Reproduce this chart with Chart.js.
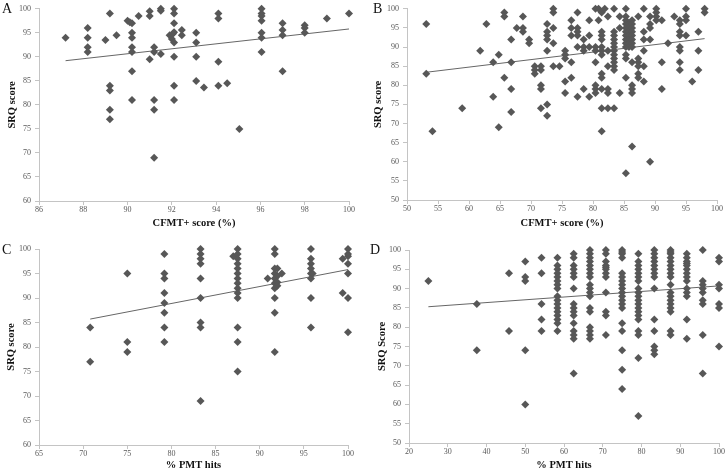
<!DOCTYPE html>
<html lang="en">
<head>
  <meta charset="UTF-8" />
  <title>SRQ vs CFMT+ / PMT</title>
  <script src="https://cdn.jsdelivr.net/npm/chart.js"></script>
  <style>
    body { margin: 0; background: #fff; }
    #wrap { position: relative; width: 726px; height: 472px; }
    canvas { position: absolute; }
    .letter {
      position: absolute;
      font-family: 'Liberation Serif', serif;
      font-size: 14px;
      line-height: 14px;
      color: #111;
    }
  </style>
</head>
<body>
<div id="wrap">
  <canvas id="chartA" width="363" height="236" style="left:0;top:0"></canvas>
  <canvas id="chartB" width="363" height="236" style="left:363px;top:0"></canvas>
  <canvas id="chartC" width="363" height="236" style="left:0;top:236px"></canvas>
  <canvas id="chartD" width="363" height="236" style="left:363px;top:236px"></canvas>
  <div class="letter" style="left:2px;top:2px">A</div>
  <div class="letter" style="left:373px;top:2px">B</div>
  <div class="letter" style="left:2px;top:243px">C</div>
  <div class="letter" style="left:370px;top:243px">D</div>
</div>

<script>
  // ---- data (x column -> SRQ scores) ----
  const colsA = [87.2, 88.2, 89, 89.2, 89.5, 90, 90.1, 90.2, 90.5, 91, 91.2, 91.5, 91.9, 92, 92.05, 92.1, 92.45, 93.1, 93.45, 94.1, 94.5, 95.05, 96.05, 97, 98, 99, 100];
  const scoresA = [
    [94], [96, 94, 92, 91], [93.5], [99, 84, 83, 79, 77], [94.5], [97.5], [97.2],
    [97, 95, 94, 92, 91, 87, 81], [98.5], [99.5, 98.5, 89.5], [92, 91, 81, 79, 69],
    [100, 99.6, 90.6], [94.5], [93.7], [94.8], [100, 99, 97, 95.1, 93, 90, 84, 81],
    [95.6, 94.5], [95, 93, 90, 85], [83.6], [99, 98, 89, 84], [84.5], [75],
    [100, 99, 98.5, 97.5, 95, 94, 91], [97, 95.6, 94.5, 87], [96.6, 96, 95], [98], [99]
  ];
  const trendA = [[87.2, 89.2], [100, 95.8]];

  const colsB = [53.1, 54.1, 58.9, 61.8, 62.8, 63.9, 64.8, 65.7, 66.8, 67.7, 68.7, 69.7, 70.6, 71.6, 72.6, 73.6, 74.6, 75.5, 76.5, 77.5, 78.5, 79.4, 80.4, 80.9, 81.4, 81.9, 82.4, 83.4, 84.3, 85.3, 85.8, 86.3, 87.3, 88.2, 89.2, 90.2, 91.1, 92.1, 93.1, 94, 95, 96, 97, 98];
  const scoresB = [
    [96, 83], [68], [74], [89], [96], [86, 77], [88, 69], [99, 98, 82], [92, 86, 79, 73],
    [95], [98, 95, 94], [92, 91], [85, 84, 83], [85, 84, 80, 79, 74],
    [96, 94, 93, 92, 89, 75, 72], [100, 99, 95, 91, 85], [85], [89, 88, 87, 81, 78],
    [97, 95, 93, 86, 82], [99, 95, 94, 93, 90, 77], [92, 90, 89, 79], [97, 93, 90, 77],
    [100, 90, 89, 86, 80, 79, 78], [100, 97], [99, 94, 93, 92, 90, 89, 88, 83, 82, 79, 74, 68],
    [100], [98, 89, 85, 79, 78, 74], [100, 94, 93, 92, 91, 90, 89, 88, 87, 86, 85, 84, 74],
    [98, 95, 78], [100, 98, 97, 96, 95, 94, 93, 92, 91, 90, 88, 87, 82, 57],
    [96, 95, 94, 93, 92, 91, 90], [97, 96, 95, 94, 93, 92, 91, 90, 86, 80, 79, 78, 64],
    [98, 87, 86, 85, 83, 82], [100, 94, 92, 89, 85, 81], [98, 96, 95, 92, 60],
    [100, 99, 98, 97], [97, 86, 79], [91], [98], [97, 96, 94, 93, 90, 89, 86, 84],
    [100, 98, 97, 93], [81], [94, 89, 84], [100, 99]
  ];
  const trendB = [[53.1, 83.4], [98, 92.2]];

  const colsC = [70.8, 75, 79.2, 83.3, 87, 87.5, 90.9, 91.7, 92, 92.5, 95.8, 96, 99.4, 100];
  const scoresC = [
    [84, 77], [95, 81, 79], [99, 95, 94, 91, 89, 87, 84, 81], [100, 99, 98, 97, 94, 90, 85, 84, 69],
    [98.5], [100, 99, 98, 97, 96, 95, 94, 93, 92, 91, 90, 84, 81, 75], [94],
    [100, 99, 96, 95, 94, 93, 92, 90, 87, 79], [96, 94.5, 93.2, 92.5], [95],
    [100, 98, 97, 96, 95, 94, 90, 84], [95], [98, 91], [100, 99, 98.5, 97, 95, 90, 83]
  ];
  const trendC = [[70.8, 85.7], [100, 95.8]];

  const colsD = [25, 37.5, 45.8, 50, 54.2, 58.3, 62.5, 66.7, 70.8, 75, 79.2, 83.3, 87.5, 91.7, 95.8, 100];
  const scoresD = [
    [92], [86, 74], [94, 79], [97, 93, 92, 74, 60], [98, 94, 86, 82, 79],
    [98, 96, 95, 94, 93, 92, 91, 90, 88, 87, 86, 85, 84, 83, 82, 81, 79],
    [99, 98, 96, 95, 94, 93, 90, 86, 85, 84, 83, 81, 79, 78, 77, 68],
    [100, 99, 98, 97, 96, 95, 94, 93, 91, 90, 89, 88, 85, 84, 80, 79, 78, 77],
    [100, 99, 97, 96, 95.5, 95, 94, 93, 89, 84, 83, 78],
    [100, 99.5, 99, 98, 94, 93, 92, 91, 90, 89, 88, 87, 86, 85, 81, 79, 74, 69, 64],
    [99, 97, 96, 95, 94, 93, 92, 90, 89, 88, 87, 86, 85, 84, 83, 82, 79, 78, 72, 57],
    [100, 99, 98, 97, 96, 95, 94, 93, 90, 82, 79, 75, 74, 73],
    [100, 99.5, 99, 98, 97, 96, 95, 94, 93, 91, 89, 88, 87, 86, 85, 84, 79, 78],
    [99, 98, 97, 96.5, 96, 95, 94, 93, 92, 90, 89, 88, 82, 77],
    [100, 92, 91, 90, 89, 87, 86, 78, 68],
    [98, 97, 91, 90, 86, 85, 75]
  ];
  const trendD = [[25, 85.3], [100, 90.7]];

  // ---- drawing ----
  const MARK = '#575757';
  const AXIS = '#c4c4c4';
  const TICK_FONT = { family: "'Liberation Serif', serif", size: 8 };
  const TITLE_FONT = { family: "'Liberation Serif', serif", size: 10.5, weight: 'bold' };

  function toPoints(cols, scores) {
    const pts = [];
    cols.forEach((x, i) => scores[i].forEach(y => pts.push({ x, y })));
    return pts;
  }

  function makePanel(id, cols, scores, trend, xs, ys, xTitle, yTitle, area) {
    const W = 363, H = 236;
    new Chart(document.getElementById(id), {
      type: 'scatter',
      data: {
        datasets: [
          {
            data: toPoints(cols, scores),
            pointStyle: 'rectRot',
            pointRadius: 4,
            backgroundColor: MARK,
            borderColor: MARK,
            borderWidth: 0,
            clip: false
          },
          {
            type: 'line',
            data: trend.map(([x, y]) => ({ x, y })),
            borderColor: '#666',
            borderWidth: 1,
            pointRadius: 0,
            fill: false
          }
        ]
      },
      options: {
        responsive: false,
        animation: false,
        devicePixelRatio: 1,
        layout: { padding: { top: area.top, right: W - area.right, left: 0, bottom: 0 } },
        plugins: { legend: { display: false }, tooltip: { enabled: false } },
        scales: {
          x: {
            type: 'linear', min: xs[0], max: xs[1],
            afterFit: s => { s.height = H - area.bottom; },
            ticks: { stepSize: xs[2], font: TICK_FONT, color: '#595959', padding: 0, maxRotation: 0 },
            grid: { drawOnChartArea: false, tickLength: 4, color: AXIS },
            border: { color: AXIS },
            title: { display: true, text: xTitle, font: TITLE_FONT, color: '#111', padding: { top: 0, bottom: area.xt } }
          },
          y: {
            type: 'linear', min: ys[0], max: ys[1],
            afterFit: s => { s.width = area.left; },
            ticks: { stepSize: ys[2], font: TICK_FONT, color: '#595959', padding: 4 },
            grid: { drawOnChartArea: false, tickLength: 4, color: AXIS },
            border: { color: AXIS },
            title: { display: true, text: yTitle, font: TITLE_FONT, color: '#111', padding: { top: area.yt, bottom: 0 } }
          }
        }
      }
    });
  }

  makePanel('chartA', colsA, scoresA, trendA, [86, 100, 2], [60, 100, 5],
    'CFMT+ score (%)', 'SRQ score', { left: 39, right: 349, top: 5, bottom: 201, xt: 6.7, yt: 5.7 });
  makePanel('chartB', colsB, scoresB, trendB, [50, 100, 5], [50, 100, 5],
    'CFMT+ score (%)', 'SRQ score', { left: 44, right: 354, top: 5, bottom: 200, xt: 6.7, yt: 8.7 });
  makePanel('chartC', colsC, scoresC, trendC, [65, 100, 5], [60, 100, 5],
    '% PMT hits', 'SRQ score', { left: 39, right: 348, top: 13, bottom: 209, xt: 0, yt: 4.7 });
  makePanel('chartD', colsD, scoresD, trendD, [20, 100, 10], [50, 100, 5],
    '% PMT hits', 'SRQ Score', { left: 46, right: 356, top: 14, bottom: 207, xt: 0, yt: 13 });
</script>
</body>
</html>
